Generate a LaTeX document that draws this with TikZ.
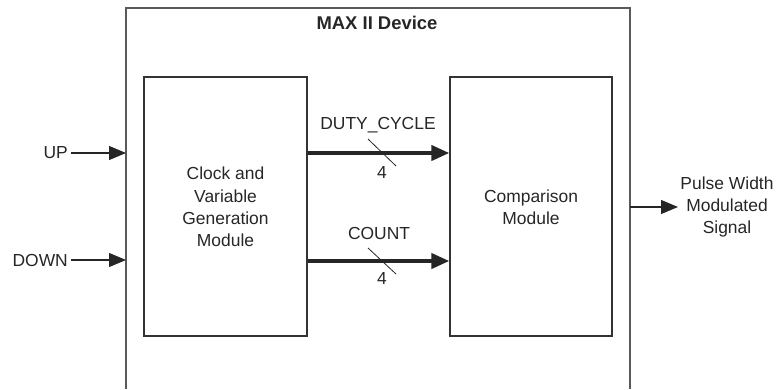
\documentclass[tikz,border=0pt]{standalone}
\usepackage{fontspec}
\setmainfont{Liberation Sans}
\usetikzlibrary{arrows.meta}
\begin{document}
\begin{tikzpicture}[x=1bp,y=-1bp,
  lbl/.style={font=\fontsize{17.5}{22.5}\selectfont, inner sep=0pt, align=center, text=black!85},
  modbox/.style={draw=black!80, line width=1.3bp, inner sep=0pt},
  sig/.style={draw=black!85, line width=1.1bp, -{Triangle[length=17bp,width=14bp]}},
  bus/.style={draw=black!85, line width=4bp, -{Triangle[length=18bp,width=15bp]}},
  tick/.style={draw=black!85, line width=0.8bp}]
\useasboundingbox (0,0) rectangle (777,389);
% outer device box (open at bottom)
\draw[draw=black!65, line width=1.3bp] (126,389) -- (126,8) -- (630,8) -- (630,389);
\node[lbl, font=\fontsize{18.5}{22}\selectfont\bfseries] (title) at (377,23) {MAX II Device};
% modules
\node[modbox, minimum width=163bp, minimum height=259bp] (clk) at (225.5,206.5) {};
\node[lbl] (clkt) at (225.5,207) {Clock and\\Variable\\Generation\\Module};
\node[modbox, minimum width=162bp, minimum height=259bp] (cmp) at (531,206.5) {};
\node[lbl] (cmpt) at (531,207) {Comparison\\Module};
% inputs
\node[lbl, anchor=east] (up) at (68,153) {UP};
\node[lbl, anchor=east] (down) at (68,260) {DOWN};
\coordinate (upend) at (126,153);
\coordinate (downend) at (126,260);
\draw[sig] (up.east) ++(3,0) coordinate (upst) -- (upend);
\draw[sig] (down.east) ++(3,0) coordinate (downst) -- (downend);
% buses
\coordinate (d0) at (clk.east |- 0,153);
\coordinate (d1) at (cmp.west |- 0,153);
\coordinate (c0) at (clk.east |- 0,261);
\coordinate (c1) at (cmp.west |- 0,261);
\draw[bus] (d0) -- (d1);
\draw[bus] (c0) -- (c1);
\node[lbl] (dl) at (378,125) {DUTY\_CYCLE};
\node[lbl] (cl) at (379,233) {COUNT};
\coordinate (dt0) at (368,139); \coordinate (dt1) at (396,166);
\coordinate (ct0) at (368,248); \coordinate (ct1) at (396,274);
\draw[tick] (dt0) -- (dt1);
\draw[tick] (ct0) -- (ct1);
\node[lbl] (d4) at (382,172) {4};
\node[lbl] (c4) at (382,278) {4};
% output
\coordinate (o0) at (630,207);
\node[lbl] (out) at (727,207) {Pulse Width\\Modulated\\Signal};
\coordinate (o1) at (678,207);
\draw[sig] (o0) -- (o1);
\end{tikzpicture}
\end{document}
